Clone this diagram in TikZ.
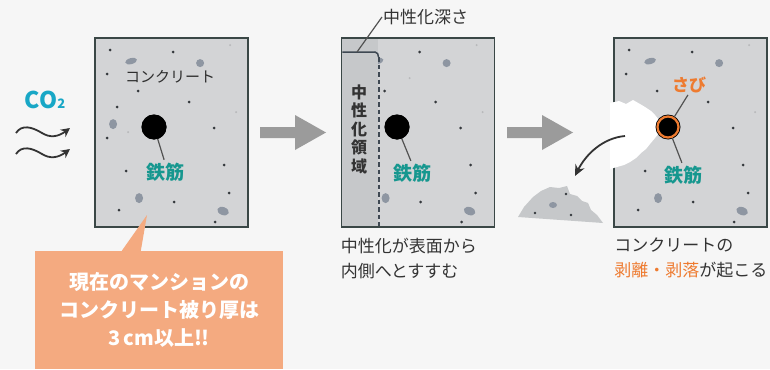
\documentclass[tikz,border=0pt]{standalone}
\usepackage{fontspec}
\setmainfont{Noto Sans CJK JP}
\usetikzlibrary{calc,positioning,arrows.meta}

\definecolor{paper}{HTML}{F6F6F6}
\definecolor{concrete}{HTML}{D3D4D6}
\definecolor{neutral}{HTML}{C6C8CA}
\definecolor{frame}{HTML}{3A4746}
\definecolor{grit}{HTML}{34383C}
\definecolor{pebble}{HTML}{8E96A2}
\definecolor{rebarteal}{HTML}{16978F}
\definecolor{cotwo}{HTML}{18A7C6}
\definecolor{rust}{HTML}{EE7B30}
\definecolor{callout}{HTML}{F4AA80}
\definecolor{arrowgray}{HTML}{9B9B9B}
\definecolor{ink}{HTML}{333333}
\definecolor{slate}{HTML}{3E4852}

\tikzset{
  panel/.style={fill=concrete, draw=frame, line width=1.8pt, minimum width=153pt, minimum height=189pt, inner sep=0pt},
  rebar/.style={circle, fill=black, minimum size=25pt, inner sep=0pt},
  leader/.style={draw=ink!85, line width=1.2pt},
  steel/.style={text=rebarteal, font=\fontsize{19}{19}\selectfont\bfseries, inner sep=0pt},
  caption/.style={text=ink, font=\fontsize{17}{25}\selectfont, align=left, inner sep=0pt},
  wave/.style={draw=ink, line width=1.8pt, -{Stealth[length=9pt,width=9pt]}},
  bigarrow/.style={fill=arrowgray},
}

% speckles of the concrete, relative to a panel's top left corner
\newcommand\concretegrit{%
  \foreach \gx/\gy in {16/13,79/15,13/37,44/54,95/65,23/70,120/91,13/101,32/134,130/128,135/156,80/165,25/173,121/185}
    \fill[grit] (\gx,\gy) circle (1.5pt);
  \foreach \gx/\gy in {136/8,142/75,34/95,69/41}
    \fill[grit!35] (\gx,\gy) circle (1.1pt);
  \foreach \gx/\gy/\rx/\ry/\ang in {37/24/6/3/15,106/26/4/4/0,19/87/4/5/0,45/161/4/5/0,129/174/6/4/-20}
    \fill[pebble, rotate around={\ang:(\gx,\gy)}] (\gx,\gy) ellipse ({\rx pt} and {\ry pt});
}
% grey block arrow around a coordinate
\newcommand\blockarrow[1]{%
  \fill[bigarrow, shift={(#1)}] (-33,-5.5) -- (2,-5.5) -- (2,-17.5) -- (33,0) -- (2,17.5) -- (2,5.5) -- (-33,5.5) -- cycle;
}

\begin{document}
\begin{tikzpicture}[x=1pt,y=-1pt]
  \useasboundingbox (0,0) rectangle (770,369);
  \fill[paper] (0,0) rectangle (770,369);

  % CO2 coming in
  \node[text=cotwo, font=\fontsize{23}{23}\selectfont\bfseries, inner sep=0pt] (co2) at (45,100) {CO{\fontsize{13}{13}\selectfont 2}};
  \coordinate (wA) at (16,133);
  \coordinate (wB) at (70,128);
  \coordinate (wC) at (16,154);
  \coordinate (wD) at (70,149);
  \draw[wave] (wA) .. controls (22,124) and (32,127) .. (42,133) .. controls (50,138) and (58,137) .. (wB);
  \draw[wave] (wC) .. controls (22,145) and (32,148) .. (42,154) .. controls (50,159) and (58,158) .. (wD);

  % Panels
  \node[panel] (P1) at (171.5,132.5) {};
  \node[panel] (P2) at (418,132.5) {};
  \node[panel] (P3) at (690.5,132.5) {};
  \foreach \p in {P1,P2,P3}{
    \begin{scope}[shift={(\p.north west)}]
      \concretegrit
    \end{scope}
  }

  % Panel 1
  \node[text=ink!90!black, font=\fontsize{15}{15}\selectfont, inner sep=0pt] (conc) at (170,77) {コンクリート};
  \node[rebar] (bar1) at (154,127) {};
  \node[steel] (steel1) at (165,172) {鉄筋};
  \draw[leader, shorten >=3pt] (bar1.center) -- (steel1.north);
  \node[rebar] at (bar1) {};

  % Panel 2: neutralised zone
  \fill[neutral] ($(P2.north west)+(1.8,1.8)$) rectangle ($(P2.south west)+(37,-1.8)$);
  \draw[slate, line width=1.8pt, dash pattern=on 4.5pt off 3pt] ($(P2.north west)+(38,20)$) -- ($(P2.south west)+(38,-2)$);
  \coordinate (depthtick) at (357,52);
  \draw[slate, line width=1.5pt] ($(P2.north west)+(1.8,15)$) -- (375,52) to[out=0,in=90] (378.5,57);
  \node[anchor=west, text=ink, font=\fontsize{17}{17}\selectfont, inner sep=0pt] (depth) at (383,17) {中性化深さ};
  \draw[leader] (depthtick) -- ($(depth.west)+(-1,0)$);
  \node[text=ink, font=\fontsize{16}{18.5}\selectfont\bfseries, align=center, inner sep=0pt] (zone) at (359,129) {中\\性\\化\\領\\域};
  \node[rebar] (bar2) at (397,127) {};
  \node[steel] (steel2) at (412,173) {鉄筋};
  \draw[leader, shorten >=3pt] (bar2.center) -- (steel2.north);
  \node[rebar] at (bar2) {};
  \node[caption, below right=10pt and 0pt of P2.south west] (cap2) {中性化が表面から\\内側へとすすむ};

  % Panel 3: spalled cover and rusty bar
  \fill[white] (610,103) -- (619,101) -- (626,104) -- (633,100) -- (640,104) -- (645,107) -- (651,111)
    -- (655,115) -- (659,120) -- (661,127) -- (659,133) -- (655,138) -- (650,144) -- (646,149)
    -- (641,153) -- (636,158) -- (630,162) -- (624,165) -- (617,167) -- (610,169) -- cycle;
  \node[rebar] (bar3) at (668,127) {};
  \node[text=rust, font=\fontsize{17}{17}\selectfont\bfseries, inner sep=0pt] (rustlbl) at (689,85) {さび};
  \node[steel] (steel3) at (683,175) {鉄筋};
  \draw[leader, shorten >=2pt] (bar3.center) -- (rustlbl.south);
  \draw[leader, shorten >=3pt] (bar3.center) -- (steel3.north);
  \node[rebar, draw=rust, line width=2.2pt, minimum size=21pt] at (bar3) {};
  \coordinate (flakefrom) at (625,136);
  \coordinate (flaketo) at (575,176);
  \draw[ink, line width=1.8pt, -{Stealth[length=11pt,width=10pt]}] (flakefrom) .. controls (603,138) and (586,154) .. (flaketo);
  % fallen piece
  \fill[neutral] (518,217) -- (524,207) -- (533,197) -- (541,191) -- (550,187) -- (559,188) -- (567,186)
    -- (570,194) -- (577,196) -- (582,201) -- (588,203) -- (591,210) -- (597,215) -- (603,223) -- cycle;
  \fill[pebble] (553,205) ellipse (4pt and 3pt);
  \foreach \gx/\gy in {535/213,571/215,566/194}
    \fill[grit] (\gx,\gy) circle (1.4pt);
  \node[caption, below right=10pt and 1pt of P3.south west] (cap3) {コンクリートの\\{\color{rust}剥離・剥落}が起こる};

  % Block arrows between panels
  \coordinate (go1) at (293,132.5);
  \coordinate (go2) at (540,132.5);
  \blockarrow{go1}
  \blockarrow{go2}

  % Callout
  \node[fill=callout, minimum width=248pt, minimum height=118pt, inner sep=0pt] (note) at (159,310) {};
  \fill[callout] ($(note.north west)+(87,0)$) -- (147,215) -- ($(note.north west)+(106,0)$) -- cycle;
  \node[text=white, font=\fontsize{20}{28}\selectfont\bfseries, align=center, inner sep=0pt] (notetext) at (note) {現在のマンションの\\コンクリート被り厚は\\3\,cm以上!!};
\end{tikzpicture}
\end{document}
